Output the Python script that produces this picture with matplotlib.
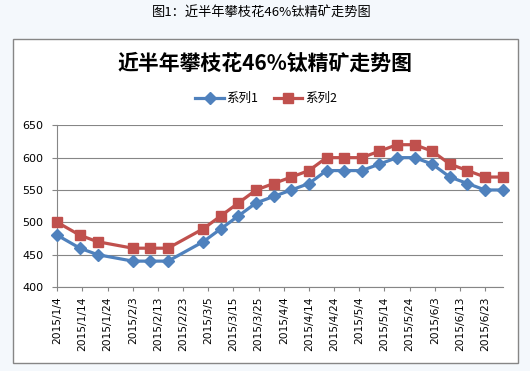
#!/usr/bin/env python

import datetime as dt
import matplotlib
matplotlib.use("Agg")
import matplotlib.pyplot as plt
import matplotlib.dates as mdates
from matplotlib.patches import Rectangle

plt.rcParams['font.family'] = ['Noto Sans CJK SC', 'DejaVu Sans']

# data
dates = ["2015-01-04", "2015-01-13", "2015-01-20", "2015-02-03", "2015-02-10", "2015-02-17",
         "2015-03-03", "2015-03-10", "2015-03-17", "2015-03-24", "2015-03-31", "2015-04-07",
         "2015-04-14", "2015-04-21", "2015-04-28", "2015-05-05", "2015-05-12", "2015-05-19",
         "2015-05-26", "2015-06-02", "2015-06-09", "2015-06-16", "2015-06-23", "2015-06-30"]
series1 = [480, 460, 450, 440, 440, 440, 470, 490, 510, 530, 540, 550,
           560, 580, 580, 580, 590, 600, 600, 590, 570, 560, 550, 550]
series2 = [500, 480, 470, 460, 460, 460, 490, 510, 530, 550, 560, 570,
           580, 600, 600, 600, 610, 620, 620, 610, 590, 580, 570, 570]
names = ["系列1", "系列2"]
caption = "图1：近半年攀枝花46%钛精矿走势图"
title = "近半年攀枝花46%钛精矿走势图"
yticks = [400, 450, 500, 550, 600, 650]

x = [dt.datetime.strptime(d, "%Y-%m-%d") for d in dates]
xticks = [x[0] + dt.timedelta(days=10 * i) for i in range(18)]

fig = plt.figure(figsize=(5.3, 3.71), dpi=100)
fig.patch.set_facecolor('#F4F8FC')

# chart frame
W, H = 530.0, 371.0
frame = Rectangle((13 / W, 1 - 362.5 / H), (517.5 - 13) / W, (362.5 - 39) / H,
                  transform=fig.transFigure, facecolor='white', edgecolor='#868686',
                  linewidth=1.0, zorder=-5)
fig.patches.append(frame)

fig.text(262 / W, 1 - 12 / H, caption, ha='center', va='center', fontsize=9.5, color='black')
fig.text(265 / W, 1 - 63 / H, title, ha='center', va='center', fontsize=15,
         fontweight='bold', color='black')

ax = fig.add_axes([57.3 / W, 1 - 287 / H, (502.7 - 57.3) / W, (287 - 125.3) / H])
ax.set_facecolor('none')

ax.plot(x, series1, color='#4F81BD', linewidth=2.3, marker='D', markersize=6.5,
        markeredgecolor='#4F81BD', label=names[0], zorder=3, clip_on=False)
ax.plot(x, series2, color='#C0504D', linewidth=2.3, marker='s', markersize=7,
        markeredgecolor='#C0504D', label=names[1], zorder=4, clip_on=False)

ax.set_ylim(400, 650)
ax.set_yticks(yticks)
ax.set_xlim(x[0], x[-1])
ax.set_xticks(xticks)
ax.xaxis.set_major_formatter(
    matplotlib.ticker.FuncFormatter(lambda v, p: "{0}/{1}/{2}".format(
        mdates.num2date(v).year, mdates.num2date(v).month, mdates.num2date(v).day)))

ax.grid(axis='y', color='#868686', linewidth=0.8)
ax.set_axisbelow(True)
for s in ['top', 'right']:
    ax.spines[s].set_visible(False)
for s in ['left', 'bottom']:
    ax.spines[s].set_color('#868686')
    ax.spines[s].set_linewidth(0.8)

ax.tick_params(axis='y', length=3.5, width=0.8, color='#868686', pad=6.5, labelsize=8)
ax.tick_params(axis='x', length=3, width=0.8, color='#868686', pad=4, labelsize=7.7,
               labelrotation=90)
for lab in ax.get_xticklabels() + ax.get_yticklabels():
    lab.set_fontfamily('DejaVu Sans')

fig.legend(loc='center', bbox_to_anchor=(266 / W, 1 - 98.5 / H), ncol=2, frameon=False,
           fontsize=9, handlelength=2.3, handletextpad=0.2, columnspacing=1.2)

fig.savefig('out.png', dpi=100, facecolor=fig.get_facecolor())
